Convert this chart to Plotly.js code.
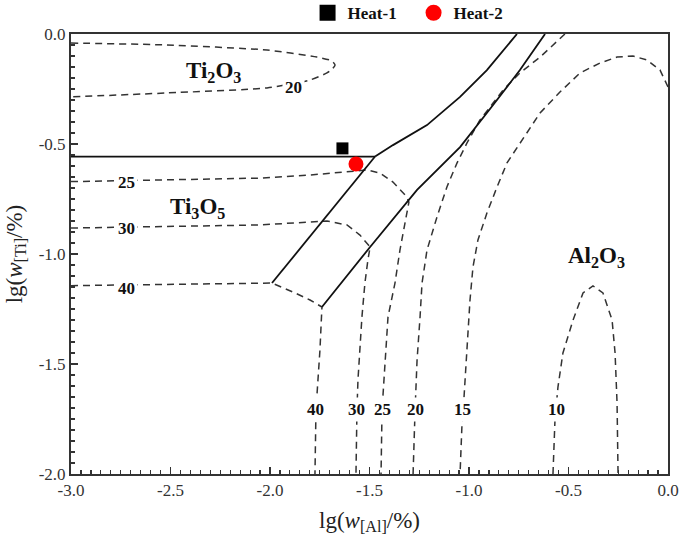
<!DOCTYPE html>
<html>
<head>
<meta charset="utf-8">
<script src="https://cdn.plot.ly/plotly-3.0.1.min.js"></script>
<style>html,body{margin:0;padding:0;background:#fff;}</style>
</head>
<body>
<div id="chart" style="width:685px;height:549px;"></div>
<script>
// ---- Phase boundaries (solid) ----
const boundTi2O3_Ti3O5_x = [-3.0, -1.472];
const boundTi2O3_Ti3O5_y = [-0.557, -0.557];
const boundTi2O3_Al2O3_x = [-1.472, -1.382, -1.211, -1.045, -0.910, -0.759];
const boundTi2O3_Al2O3_y = [-0.557, -0.505, -0.414, -0.286, -0.164, 0.0];
const boundTi3O5_left_x = [-1.472, -1.990];
const boundTi3O5_left_y = [-0.557, -1.132];
const boundAl2O3_right_x = [-1.739, -1.497, -1.261, -1.045, -0.879, -0.744, -0.618];
const boundAl2O3_right_y = [-1.241, -0.968, -0.709, -0.514, -0.323, -0.164, 0.0];

// ---- Iso-contours (dashed) ----
const c20top_x = [-3.0, -2.518, -2.015, -1.764, -1.690, -1.673, -1.690, -1.714, -1.799, -2.015, -2.518, -3.0];
const c20top_y = [-0.041, -0.050, -0.073, -0.105, -0.122, -0.141, -0.162, -0.177, -0.209, -0.245, -0.268, -0.286];

const c25_x = [-3.0, -2.050, -1.799, -1.583, -1.513, -1.447, -1.382, -1.312, -1.302, -1.347, -1.372, -1.407, -1.422, -1.437, -1.442];
const c25_y = [-0.671, -0.655, -0.641, -0.623, -0.618, -0.632, -0.673, -0.741, -0.764, -0.982, -1.132, -1.286, -1.482, -1.709, -2.0];

const c30_x = [-3.0, -2.050, -1.714, -1.613, -1.548, -1.497, -1.508, -1.523, -1.538, -1.558, -1.563, -1.568];
const c30_y = [-0.882, -0.868, -0.850, -0.868, -0.914, -0.968, -1.027, -1.132, -1.286, -1.573, -1.709, -2.0];

const c40_x = [-3.0, -1.990, -1.884, -1.799, -1.739, -1.749, -1.769, -1.774];
const c40_y = [-1.144, -1.132, -1.173, -1.209, -1.241, -1.436, -1.709, -2.0];

const c20_x = [-0.518, -0.643, -0.744, -0.829, -0.879, -0.945, -1.010, -1.060, -1.111, -1.161, -1.211, -1.236, -1.246, -1.261, -1.271, -1.281];
const c20_y = [0.0, -0.105, -0.177, -0.255, -0.314, -0.391, -0.495, -0.586, -0.695, -0.832, -0.982, -1.132, -1.286, -1.482, -1.709, -2.0];

const c15_x = [0.0, -0.040, -0.106, -0.176, -0.256, -0.342, -0.442, -0.543, -0.643, -0.744, -0.809, -0.859, -0.910, -0.955, -0.980, -0.995, -1.005, -1.025, -1.035, -1.045];
const c15_y = [-0.241, -0.164, -0.118, -0.100, -0.105, -0.132, -0.177, -0.264, -0.359, -0.495, -0.586, -0.695, -0.814, -0.936, -1.059, -1.209, -1.377, -1.650, -1.768, -2.0];

const c10_x = [-0.578, -0.568, -0.553, -0.528, -0.477, -0.427, -0.377, -0.327, -0.281, -0.266, -0.256, -0.251];
const c10_y = [-2.0, -1.755, -1.605, -1.450, -1.300, -1.177, -1.145, -1.177, -1.300, -1.450, -1.677, -2.0];

// ---- Contour labels ----
const contourLabels = ['20', '25', '30', '40', '40', '30', '25', '20', '15', '10'];
const contourLabel_x = [-1.884, -2.719, -2.719, -2.719, -1.769, -1.563, -1.437, -1.271, -1.035, -0.558];
const contourLabel_y = [-0.241, -0.677, -0.882, -1.155, -1.709, -1.709, -1.709, -1.709, -1.709, -1.709];

// ---- Phase labels ----
const phaseLabels = ['Ti<sub>2</sub>O<sub>3</sub>', 'Ti<sub>3</sub>O<sub>5</sub>', 'Al<sub>2</sub>O<sub>3</sub>'];
const phase_x = [-2.286, -2.362, -0.357];
const phase_y = [-0.173, -0.791, -1.014];

// ---- Experimental heats ----
const heatNames = ['Heat-1', 'Heat-2'];
const heat_x = [-1.636, -1.568];
const heat_y = [-0.520, -0.591];

// ---- Ticks ----
const xTickVals = [-3.0, -2.5, -2.0, -1.5, -1.0, -0.5, 0.0];
const xTickText = ['-3.0', '-2.5', '-2.0', '-1.5', '-1.0', '-0.5', '0.0'];
const yTickVals = [0.0, -0.5, -1.0, -1.5, -2.0];
const yTickText = ['0.0', '-0.5', '-1.0', '-1.5', '-2.0'];

const FONT = 'Liberation Serif, Times New Roman, serif';
const solid = {color: '#111', width: 1.8};
const dashed = {color: '#333', width: 1.5, dash: '7px,5px'};

function line(x, y, style) {
  return {x: x, y: y, mode: 'lines', type: 'scatter', line: style, showlegend: false, hoverinfo: 'skip', cliponaxis: true};
}

const traces = [
  line(c20top_x, c20top_y, Object.assign({shape: 'spline', smoothing: 0.6}, dashed)),
  line(c25_x, c25_y, dashed),
  line(c30_x, c30_y, dashed),
  line(c40_x, c40_y, dashed),
  line(c20_x, c20_y, dashed),
  line(c15_x, c15_y, dashed),
  line(c10_x, c10_y, dashed),
  line(boundTi2O3_Ti3O5_x, boundTi2O3_Ti3O5_y, solid),
  line(boundTi2O3_Al2O3_x, boundTi2O3_Al2O3_y, solid),
  line(boundTi3O5_left_x, boundTi3O5_left_y, solid),
  line(boundAl2O3_right_x, boundAl2O3_right_y, solid),
  // data points (plot)
  {x: [heat_x[0]], y: [heat_y[0]], name: heatNames[0], type: 'scatter', mode: 'markers', showlegend: false,
   marker: {symbol: 'square', size: 12, color: '#000'}},
  {x: [heat_x[1]], y: [heat_y[1]], name: heatNames[1], type: 'scatter', mode: 'markers', showlegend: false,
   marker: {symbol: 'circle', size: 15, color: '#ff0000'}},
  // legend entries (larger symbols as in the original key)
  {x: [null], y: [null], name: heatNames[0], type: 'scatter', mode: 'markers', showlegend: true,
   marker: {symbol: 'square', size: 16, color: '#000'}},
  {x: [null], y: [null], name: heatNames[1], type: 'scatter', mode: 'markers', showlegend: true,
   marker: {symbol: 'circle', size: 22, color: '#ff0000'}}
];

const annotations = [];
for (let i = 0; i < contourLabels.length; i++) {
  annotations.push({x: contourLabel_x[i], y: contourLabel_y[i], xref: 'x', yref: 'y',
    text: '<b>' + contourLabels[i] + '</b>', showarrow: false, bgcolor: '#fff', borderpad: 2,
    font: {family: FONT, size: 17, color: '#111'}});
}
for (let i = 0; i < phaseLabels.length; i++) {
  annotations.push({x: phase_x[i], y: phase_y[i], xref: 'x', yref: 'y',
    text: '<b>' + phaseLabels[i] + '</b>', showarrow: false,
    font: {family: FONT, size: 23, color: '#111'}});
}

const layout = {
  width: 685, height: 549,
  margin: {l: 71, r: 17, t: 34, b: 75, autoexpand: false},
  paper_bgcolor: '#fff', plot_bgcolor: '#fff',
  font: {family: FONT, color: '#222'},
  showlegend: true,
  legend: {orientation: 'h', xref: 'container', yref: 'container',
    x: 0.449, xanchor: 'left', y: 0.976, yanchor: 'middle',
    entrywidth: 61,
    font: {family: FONT, size: 17, color: '#111', weight: 'bold'}, bgcolor: 'rgba(0,0,0,0)',
    itemsizing: 'trace'},
  xaxis: {
    range: [-3, 0], showgrid: false, zeroline: false,
    showline: true, linecolor: '#333', linewidth: 2, mirror: true,
    tickmode: 'array', tickvals: xTickVals, ticktext: xTickText,
    ticks: 'inside', ticklen: 7, tickwidth: 1.5, tickcolor: '#333',
    minor: {dtick: 0.05, tick0: 0, ticks: 'inside', ticklen: 4, tickwidth: 1.2, tickcolor: '#333'},
    tickfont: {family: FONT, size: 17, color: '#333'},
    title: {text: 'lg(<i>w</i><sub>[Al]</sub>/%)', font: {family: FONT, size: 23, color: '#222'}, standoff: 12}
  },
  yaxis: {
    range: [-2, 0], showgrid: false, zeroline: false,
    showline: true, linecolor: '#333', linewidth: 2, mirror: true,
    tickmode: 'array', tickvals: yTickVals, ticktext: yTickText,
    ticks: 'inside', ticklen: 7, tickwidth: 1.5, tickcolor: '#333',
    minor: {dtick: 0.05, tick0: 0, ticks: 'inside', ticklen: 4, tickwidth: 1.2, tickcolor: '#333'},
    tickfont: {family: FONT, size: 17, color: '#333'},
    title: {text: 'lg(<i>w</i><sub>[Ti]</sub>/%)', font: {family: FONT, size: 23, color: '#222'}, standoff: 10}
  },
  annotations: annotations
};

Plotly.newPlot('chart', traces, layout, {displayModeBar: false, staticPlot: true});
</script>
</body>
</html>
